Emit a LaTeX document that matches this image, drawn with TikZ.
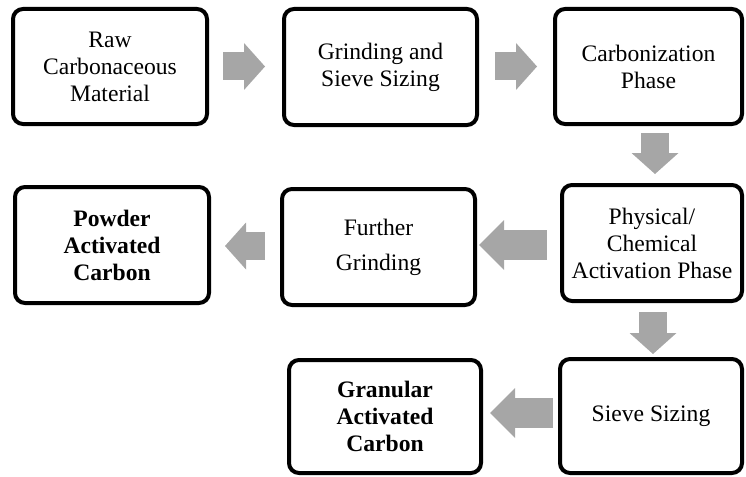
\documentclass[tikz,border=0pt]{standalone}
\usepackage{fontspec}
\setmainfont{Liberation Serif}
\usetikzlibrary{arrows.meta,calc}
\definecolor{arrowgray}{RGB}{166,166,166}
\begin{document}
\begin{tikzpicture}[x=1pt,y=-1pt,
  box/.style={draw, line width=4pt, rounded corners=10pt, align=center,
    inner sep=0pt, font=\fontsize{23.6}{27}\selectfont},
  boldbox/.style={box, font=\fontsize{23.6}{27}\selectfont\bfseries},
  blockarrow/.style={draw=arrowgray, line width=28pt,
    -{Triangle[width=47pt,length=21pt,line width=0pt]}},
  widearrow/.style={draw=arrowgray, line width=30pt,
    -{Triangle[width=50pt,length=25pt,line width=0pt]}}]
\useasboundingbox (0,0) rectangle (746,476);
% row 1
\node[box, minimum width=194pt, minimum height=115pt] (b1) at (110,66.5) {Raw\\Carbonaceous\\Material};
\node[box, minimum width=193pt, minimum height=116pt] (b2) at (380.5,67) {Grinding and\\Sieve Sizing};
\node[box, minimum width=187pt, minimum height=115pt] (b3) at (648.5,66.5) {Carbonization\\Phase};
% row 2
\node[boldbox, minimum width=194pt, minimum height=116pt] (b4) at (112,245) {Powder\\Activated\\Carbon};
\node[box, minimum width=193pt, minimum height=116pt, font=\fontsize{23.6}{35}\selectfont] (b5) at (378.5,247) {Further\\Grinding};
\node[box, minimum width=180pt, minimum height=116pt] (b6) at (652,243) {Physical/\\Chemical\\Activation Phase};
% row 3
\node[boldbox, minimum width=192pt, minimum height=113pt] (b7) at (385,416.5) {Granular\\Activated\\Carbon};
\node[box, minimum width=182pt, minimum height=114pt] (b8) at (651,416) {Sieve Sizing};
% arrows
\draw[blockarrow] ($(b1.east)+(14,0)$) -- ($(b1.east -| b2.west)+(-17,0)$);
\draw[blockarrow] ($(b2.east)+(16,-0.5)$) -- ($(b2.east -| b3.west)+(-16,-0.5)$);
\draw[blockarrow] ($(b3.south)+(6.5,7)$) -- ($(b6.north)+(3,-9)$);
\draw[widearrow] ($(b6.west)+(-13,2)$) -- ($(b5.east)+(2,-2)$);
\draw[blockarrow] ($(b5.west)+(-15,-1)$) -- ($(b4.east)+(14,1)$);
\draw[blockarrow] ($(b6.south)+(1,9)$) -- ($(b8.north)+(2,-3)$);
\draw[widearrow] ($(b8.west)+(-5,-3)$) -- ($(b7.east)+(7,-3.5)$);
\end{tikzpicture}
\end{document}
